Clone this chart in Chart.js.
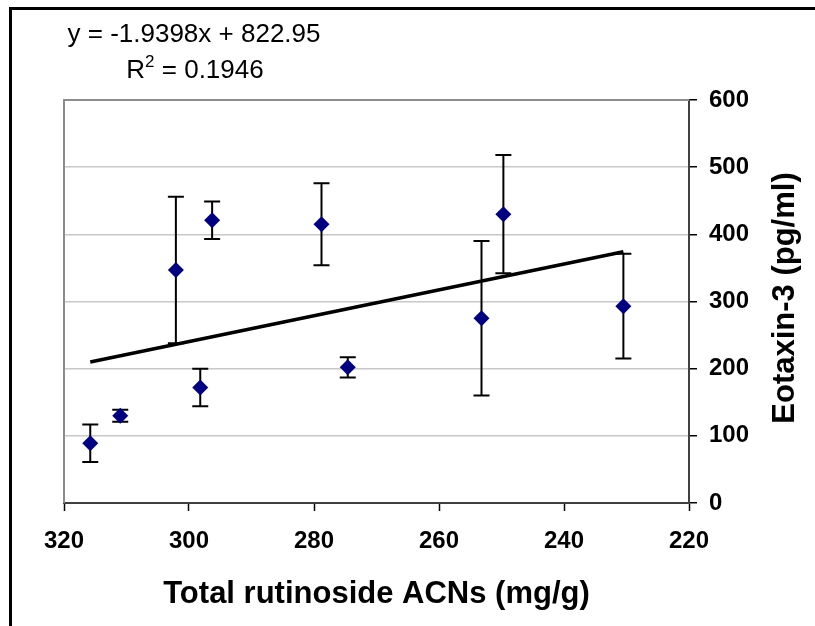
<!DOCTYPE html>
<html>
<head>
<meta charset="utf-8">
<script src="https://cdn.jsdelivr.net/npm/chart.js@4"></script>
<style>
    html, body { margin: 0; padding: 0; background: #fff; }
    #wrap { width: 815px; height: 626px; }
</style>
</head>
<body>
<div id="wrap"><canvas id="chart" width="815" height="626"></canvas></div>
<script>
// values
const rutinoside = [315.8, 311.0, 302.1, 298.2, 296.3, 278.8, 274.6, 253.2, 249.7, 230.5];
const eotaxin = [89, 130, 347, 172, 421, 415, 202, 275, 430, 293];
const eotaxinErr = [28, 9, 109, 28, 28, 61, 15, 115, 88, 78];
const trendX = [315.8, 230.5];
const trendY = [210, 374];
const xTicks = [320, 300, 280, 260, 240, 220];
const yTicks = [0, 100, 200, 300, 400, 500, 600];
const equationText = 'y = -1.9398x + 822.95';
const rSquaredText = ' = 0.1946';

const FONT = "'Liberation Sans', Arial, sans-serif";

const points = rutinoside.map((x, i) => ({ x: x, y: eotaxin[i] }));
const trend = trendX.map((x, i) => ({ x: x, y: trendY[i] }));

// error bars, plot frame, outer border and text that Chart.js has no option for
const extras = {
    id: 'extras',
    beforeDatasetsDraw(chart) {
        const { ctx, chartArea: a, scales: { x, y } } = chart;
        ctx.save();
        // grey frame on top and left of the plot area
        ctx.strokeStyle = '#8c8c8c';
        ctx.lineWidth = 2;
        ctx.beginPath();
        ctx.moveTo(a.left, a.bottom);
        ctx.lineTo(a.left, a.top);
        ctx.lineTo(a.right, a.top);
        ctx.stroke();
        // error bars
        ctx.strokeStyle = '#000';
        ctx.lineWidth = 2;
        rutinoside.forEach((xv, i) => {
            const px = x.getPixelForValue(xv);
            const top = y.getPixelForValue(eotaxin[i] + eotaxinErr[i]);
            const bot = y.getPixelForValue(eotaxin[i] - eotaxinErr[i]);
            ctx.beginPath();
            ctx.moveTo(px, top);
            ctx.lineTo(px, bot);
            ctx.moveTo(px - 8, top);
            ctx.lineTo(px + 8, top);
            ctx.moveTo(px - 8, bot);
            ctx.lineTo(px + 8, bot);
            ctx.stroke();
        });
        ctx.restore();
    },
    afterDraw(chart) {
        const { ctx } = chart;
        ctx.save();
        // outer chart border (cut off on the right and bottom)
        ctx.strokeStyle = '#000';
        ctx.lineWidth = 3;
        ctx.beginPath();
        ctx.moveTo(10.5, 626);
        ctx.lineTo(10.5, 8.5);
        ctx.lineTo(815, 8.5);
        ctx.stroke();

        // trendline label
        ctx.fillStyle = '#000';
        ctx.textBaseline = 'alphabetic';
        ctx.textAlign = 'center';
        ctx.font = `26px ${FONT}`;
        ctx.fillText(equationText, 194, 42);
        ctx.textAlign = 'left';
        const wR = ctx.measureText('R').width;
        const wRest = ctx.measureText(rSquaredText).width;
        ctx.font = `17px ${FONT}`;
        const w2 = ctx.measureText('2').width;
        let sx = 195 - (wR + w2 + wRest) / 2;
        ctx.font = `26px ${FONT}`;
        ctx.fillText('R', sx, 78);
        ctx.font = `17px ${FONT}`;
        ctx.fillText('2', sx + wR, 67);
        ctx.font = `26px ${FONT}`;
        ctx.fillText(rSquaredText, sx + wR + w2, 78);

        // y axis title reads bottom to top on the right side
        ctx.translate(785, 298);
        ctx.rotate(-Math.PI / 2);
        ctx.textAlign = 'center';
        ctx.textBaseline = 'middle';
        ctx.font = `bold 31px ${FONT}`;
        ctx.fillText('Eotaxin-3 (pg/ml)', 0, 0);
        ctx.restore();
    }
};

const config = {
    type: 'scatter',
    data: {
        datasets: [
            {
                label: 'Eotaxin-3',
                data: points,
                backgroundColor: '#000080',
                borderColor: '#000080',
                pointStyle: 'rectRot',
                pointRadius: 8,
                borderWidth: 0,
                order: 0
            },
            {
                label: 'Linear',
                type: 'line',
                data: trend,
                borderColor: '#000',
                borderWidth: 3.5,
                pointRadius: 0,
                fill: false,
                tension: 0,
                order: 1
            }
        ]
    },
    options: {
        responsive: false,
        animation: false,
        layout: { padding: { left: 64, top: 100, right: 0, bottom: 0 } },
        plugins: {
            legend: { display: false },
            tooltip: { enabled: false }
        },
        scales: {
            x: {
                type: 'linear',
                position: 'bottom',
                reverse: true,
                min: 220,
                max: 320,
                afterBuildTicks: (s) => { s.ticks = xTicks.map(v => ({ value: v })); },
                afterFit: (s) => { s.height = 123; },
                grid: { display: true, drawOnChartArea: false, tickLength: 8, tickColor: '#000', tickWidth: 1.5 },
                border: { display: true, color: '#404040', width: 2 },
                ticks: {
                    padding: 16,
                    color: '#000',
                    maxRotation: 0,
                    font: { family: FONT, size: 24, weight: 'bold' }
                },
                title: {
                    display: true,
                    text: 'Total rutinoside ACNs (mg/g)',
                    color: '#000',
                    padding: { top: 0, bottom: 13 },
                    font: { family: FONT, size: 31, weight: 'bold' }
                }
            },
            y: {
                type: 'linear',
                position: 'right',
                min: 0,
                max: 600,
                afterBuildTicks: (s) => { s.ticks = yTicks.map(v => ({ value: v })); },
                afterFit: (s) => { s.width = 126; },
                grid: { color: '#c8c8c8', lineWidth: 1.5, tickLength: 8, tickColor: '#000', tickWidth: 1.5 },
                border: { display: true, color: '#404040', width: 2 },
                ticks: {
                    padding: 12,
                    color: '#000',
                    font: { family: FONT, size: 24, weight: 'bold' }
                }
            }
        }
    },
    plugins: [extras]
};

const ctx = document.getElementById('chart');
const eotaxinChart = new Chart(ctx, config);
</script>
</body>
</html>
